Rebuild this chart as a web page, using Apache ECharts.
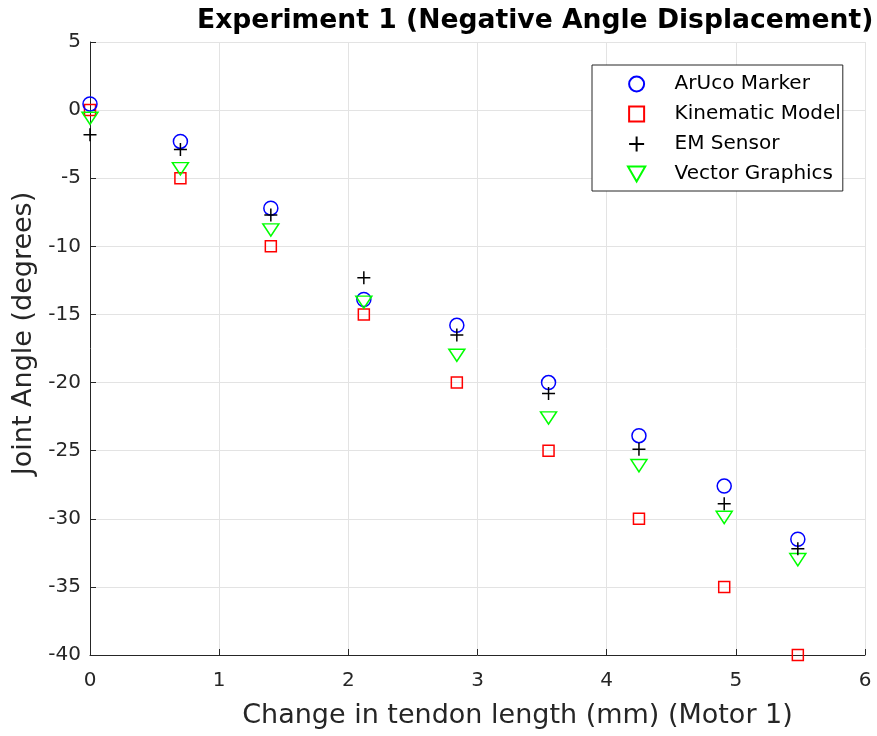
<!DOCTYPE html>
<html>
<head>
<meta charset="utf-8">
<script src="https://cdn.jsdelivr.net/npm/echarts@6/dist/echarts.min.js"></script>
<style>
  html, body { margin: 0; padding: 0; background: #fff; }
  #chart { width: 877px; height: 736px; }
</style>
</head>
<body>
<div id="chart"></div>
<script>
// tendon length change (mm) for each step
const tendonLength = [0, 0.70, 1.40, 2.12, 2.84, 3.55, 4.25, 4.91, 5.48]
// joint angle readings (degrees)
const arucoMarker = [0.45, -2.3, -7.2, -13.9, -15.8, -20.0, -23.9, -27.6, -31.5]
const kinematicModel = [0, -5, -10, -15, -20, -25, -30, -35, -40]
const emSensor = [-1.8, -2.9, -7.7, -12.3, -16.5, -20.8, -24.9, -28.9, -32.2]
const vectorGraphics = [-0.6, -4.3, -8.8, -14.1, -18.0, -22.6, -26.1, -29.9, -33.0]

const xTicks = [0, 1, 2, 3, 4, 5, 6]
const yTicks = [5, 0, -5, -10, -15, -20, -25, -30, -35, -40]

const fontName = 'DejaVu Sans'
const axisColor = '#262626'

// 把 x 和 y 拼成散点数据
function pairs(ys) {
  return tendonLength.map((x, i) => [x, ys[i]])
}

const chart = echarts.init(document.getElementById('chart'))

const option = {
  backgroundColor: '#fff',
  animation: false,
  title: {
    text: 'Experiment 1 (Negative Angle Displacement)',
    left: 192,
    top: 3,
    textStyle: { fontFamily: fontName, fontWeight: 'bold', fontSize: 26.6, color: '#000' }
  },
  grid: { left: 90, top: 42, right: 12, bottom: 81 },
  legend: {
    orient: 'vertical',
    left: 592,
    top: 65,
    padding: [9, 2, 7, 35],
    itemGap: 10,
    itemWidth: 66,
    itemHeight: 15,
    backgroundColor: '#fff',
    borderColor: axisColor,
    borderWidth: 1,
    borderRadius: 0,
    textStyle: { fontFamily: fontName, fontSize: 20, color: '#000' }
  },
  xAxis: {
    type: 'value',
    min: xTicks[0],
    max: xTicks[xTicks.length - 1],
    interval: 1,
    name: 'Change in tendon length (mm) (Motor 1)',
    nameLocation: 'middle',
    nameGap: 47,
    nameTextStyle: { fontFamily: fontName, fontSize: 27, color: axisColor, padding: [0, 0, 0, 80] },
    axisLine: { show: true, onZero: false, lineStyle: { color: axisColor, width: 1 } },
    axisTick: { show: true, inside: true, length: 6, lineStyle: { color: axisColor } },
    axisLabel: { fontFamily: fontName, fontSize: 20, color: axisColor, margin: 16 },
    splitLine: { show: true, lineStyle: { color: '#e3e3e3', width: 1 } }
  },
  yAxis: {
    type: 'value',
    min: yTicks[yTicks.length - 1],
    max: yTicks[0],
    interval: 5,
    name: 'Joint Angle (degrees)',
    nameLocation: 'middle',
    nameGap: 48,
    nameTextStyle: { fontFamily: fontName, fontSize: 27, color: axisColor, padding: [0, 0, 0, 30] },
    axisLine: { show: true, onZero: false, lineStyle: { color: axisColor, width: 1 } },
    axisTick: { show: true, inside: true, length: 6, lineStyle: { color: axisColor } },
    axisLabel: { fontFamily: fontName, fontSize: 20, color: axisColor, margin: 9 },
    splitLine: { show: true, lineStyle: { color: '#e3e3e3', width: 1 } }
  },
  series: [
    {
      name: 'ArUco Marker',
      type: 'scatter',
      symbol: 'circle',
      symbolSize: 14,
      itemStyle: { color: 'transparent', borderColor: '#0000ff', borderWidth: 1.5, opacity: 1 },
      data: pairs(arucoMarker),
      z: 3
    },
    {
      name: 'Kinematic Model',
      type: 'scatter',
      symbol: 'path://M0,0 L10,0 L10,10 L0,10 Z',
      symbolSize: 11,
      symbolKeepAspect: true,
      itemStyle: { color: 'transparent', borderColor: '#ff0000', borderWidth: 1.5, opacity: 1 },
      data: pairs(kinematicModel),
      z: 2
    },
    {
      name: 'EM Sensor',
      type: 'scatter',
      symbol: 'path://M5,0 L5,10 M0,5 L10,5',
      symbolSize: 13,
      symbolKeepAspect: true,
      itemStyle: { color: 'transparent', borderColor: '#000', borderWidth: 1.5, opacity: 1 },
      data: pairs(emSensor),
      z: 5
    },
    {
      name: 'Vector Graphics',
      type: 'scatter',
      symbol: 'path://M0,0 L10,0 L5,8.7 Z',
      symbolSize: [16, 14],
      symbolKeepAspect: true,
      itemStyle: { color: 'transparent', borderColor: '#00ff00', borderWidth: 1.5, opacity: 1 },
      data: pairs(vectorGraphics),
      z: 4
    }
  ]
}

chart.setOption(option)
</script>
</body>
</html>
